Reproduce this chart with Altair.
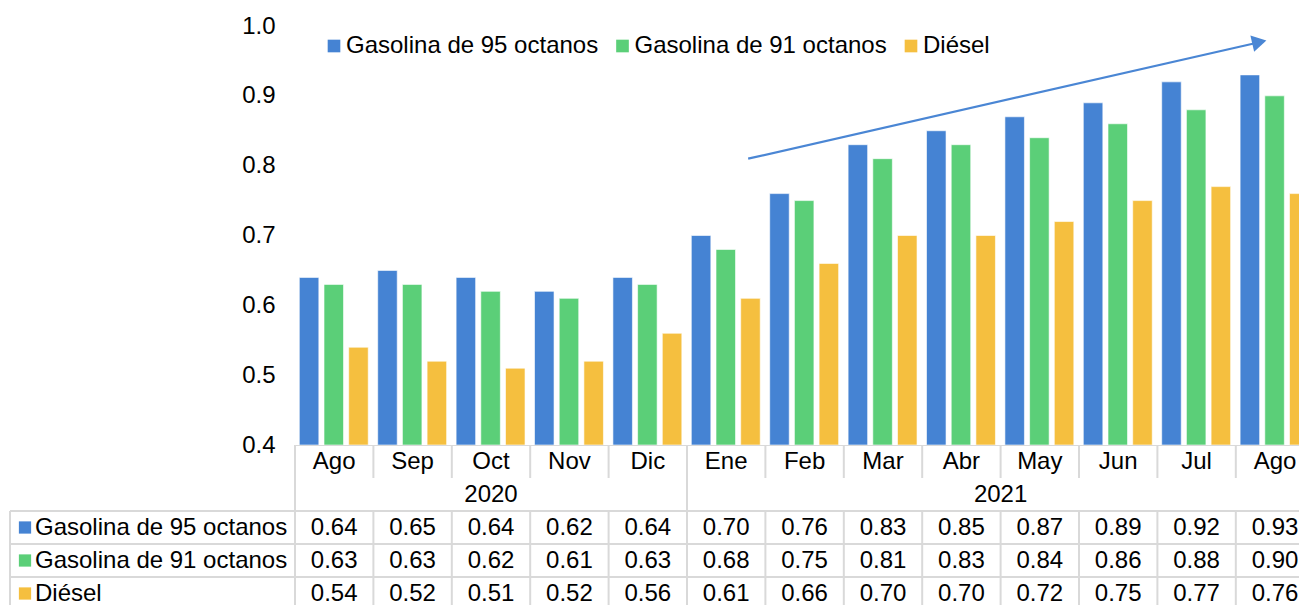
import altair as alt
import pandas as pd

# ---------------- data ----------------
months = ["Ago", "Sep", "Oct", "Nov", "Dic", "Ene", "Feb", "Mar", "Abr", "May", "Jun", "Jul", "Ago"]
years = ["2020"] * 5 + ["2021"] * 8
series = ["Gasolina de 95 octanos", "Gasolina de 91 octanos", "Diésel"]
g95 = [0.64, 0.65, 0.64, 0.62, 0.64, 0.70, 0.76, 0.83, 0.85, 0.87, 0.89, 0.92, 0.93]
g91 = [0.63, 0.63, 0.62, 0.61, 0.63, 0.68, 0.75, 0.81, 0.83, 0.84, 0.86, 0.88, 0.90]
diesel = [0.54, 0.52, 0.51, 0.52, 0.56, 0.61, 0.66, 0.70, 0.70, 0.72, 0.75, 0.77, 0.76]
colors = ["#4583d3", "#5bcf78", "#f5bf3f"]
y_ticks = [0.4, 0.5, 0.6, 0.7, 0.8, 0.9, 1.0]
# trend arrow annotation (month index + position within month, value)
arrow_x = [5.78, 12.23]
arrow_y = [0.81, 0.975]
arrow_tip = (12.30, 0.977)

# ---------------- layout constants ----------------
FONT = "Liberation Sans"
FS = 24
COL = 78.4             # px per month column
W = 1291               # plot width (page 8 -> 1299)
LABEL_W = 287          # label column width in px
XMIN = -LABEL_W / COL
XMAX = (W - LABEL_W) / COL
BAR_H = 419
ROW_H = 33
TAB_H = 160
YMAX_T = TAB_H / ROW_H
GRID = "#d9d9d9"

vals = [g95, g91, diesel]
rows = []
for k, s in enumerate(series):
    for i, m in enumerate(months):
        rows.append({"idx": i, "month": m, "year": years[i], "series": s, "k": k, "value": vals[k][i]})
df = pd.DataFrame(rows)

xscale = alt.Scale(domain=[XMIN, XMAX], nice=False, zero=False)
cscale = alt.Scale(domain=series, range=colors)

# ---------------- bar chart ----------------
bars = alt.Chart(df).transform_calculate(
    x0="datum.idx + 0.055 + datum.k * 0.315",
    x1="datum.idx + 0.055 + datum.k * 0.315 + 0.249",
).mark_bar(clip=True, stroke="white", strokeWidth=1, strokeOpacity=0.6).encode(
    x=alt.X("x0:Q", scale=xscale, axis=None),
    x2="x1:Q",
    y=alt.Y("value:Q", scale=alt.Scale(domain=[0.4, 1.0], nice=False, zero=False),
            axis=alt.Axis(values=y_ticks, format=".1f", labelFontSize=FS, labelFont=FONT,
                          labelColor="#000000", domain=False, ticks=False, tickSize=0,
                          grid=False, labelPadding=0, offset=-267, title=None)),
    y2=alt.datum(0.4),
    color=alt.Color("series:N", scale=cscale, sort=series,
                    legend=alt.Legend(orient="none", legendX=314, legendY=8, direction="horizontal",
                                      title=None, symbolType="square", symbolSize=160,
                                      symbolStrokeWidth=0, labelFontSize=FS, labelFont=FONT,
                                      labelColor="#000000", labelLimit=400, columnPadding=11.5,
                                      labelOffset=0, padding=0)),
)

arrow_df = pd.DataFrame({"x": arrow_x, "y": arrow_y})
arrow_line = alt.Chart(arrow_df).mark_line(color="#4a86d4", strokeWidth=2.2).encode(
    x=alt.X("x:Q", scale=xscale), y="y:Q"
)
head_df = pd.DataFrame({"x": [arrow_tip[0]], "y": [arrow_tip[1]]})
arrow_head = alt.Chart(head_df).mark_point(shape="triangle-right", filled=True, size=280,
                                           color="#4a86d4", opacity=1, angle=347).encode(
    x=alt.X("x:Q", scale=xscale), y="y:Q"
)

top = alt.layer(bars, arrow_line, arrow_head).properties(width=W, height=BAR_H)

# ---------------- data table ----------------
tscale = alt.Scale(domain=[0, YMAX_T], nice=False, zero=False, reverse=True)
months_df = pd.DataFrame({"idx": list(range(len(months))), "month": months, "year": years})

month_text = alt.Chart(months_df).transform_calculate(
    xc="datum.idx + 0.5", yc="0.5"
).mark_text(font=FONT, fontSize=FS, color="#000000").encode(
    x=alt.X("xc:Q", scale=xscale, axis=None),
    y=alt.Y("yc:Q", scale=tscale, axis=None),
    text="month:N",
)

year_text = alt.Chart(months_df).transform_aggregate(
    lo="min(idx)", hi="max(idx)", groupby=["year"]
).transform_calculate(
    xc="(datum.lo + datum.hi + 1) / 2", yc="1.5"
).mark_text(font=FONT, fontSize=FS, color="#000000").encode(
    x=alt.X("xc:Q", scale=xscale, axis=None),
    y=alt.Y("yc:Q", scale=tscale, axis=None),
    text="year:N",
)

value_text = alt.Chart(df).transform_calculate(
    xc="datum.idx + 0.5", yc="datum.k + 2.5"
).mark_text(font=FONT, fontSize=FS, color="#000000").encode(
    x=alt.X("xc:Q", scale=xscale, axis=None),
    y=alt.Y("yc:Q", scale=tscale, axis=None),
    text=alt.Text("value:Q", format=".2f"),
)

series_df = pd.DataFrame({"series": series, "k": [0, 1, 2]})
label_x = XMIN + 27 / COL
square_x = XMIN + 17 / COL
row_labels = alt.Chart(series_df).transform_calculate(
    xc=str(label_x), yc="datum.k + 2.5"
).mark_text(font=FONT, fontSize=FS, color="#000000", align="left").encode(
    x=alt.X("xc:Q", scale=xscale, axis=None),
    y=alt.Y("yc:Q", scale=tscale, axis=None),
    text="series:N",
)
row_squares = alt.Chart(series_df).transform_calculate(
    xc=str(square_x), yc="datum.k + 2.5"
).mark_point(shape="square", filled=True, size=150, opacity=1).encode(
    x=alt.X("xc:Q", scale=xscale, axis=None),
    y=alt.Y("yc:Q", scale=tscale, axis=None),
    color=alt.Color("series:N", scale=cscale, legend=None),
)

left_border = XMIN + 2 / COL
segs = []
# horizontal lines
segs.append({"x": 0, "x2": XMAX, "y": 0, "y2": 0})
for r in (2, 3, 4):
    segs.append({"x": left_border, "x2": XMAX, "y": r, "y2": r})
# vertical lines
for b in range(len(months) + 1):
    segs.append({"x": b, "x2": b, "y": 0, "y2": 1})
    segs.append({"x": b, "x2": b, "y": 2, "y2": YMAX_T})
for b in (0, 5):
    segs.append({"x": b, "x2": b, "y": 1, "y2": 2})
segs.append({"x": left_border, "x2": left_border, "y": 2, "y2": YMAX_T})
seg_df = pd.DataFrame(segs)
grid_rules = alt.Chart(seg_df).mark_rule(color=GRID, strokeWidth=2, clip=True).encode(
    x=alt.X("x:Q", scale=xscale, axis=None),
    x2="x2:Q",
    y=alt.Y("y:Q", scale=tscale, axis=None),
    y2="y2:Q",
)

table = alt.layer(grid_rules, month_text, year_text, value_text, row_squares, row_labels).properties(
    width=W, height=TAB_H
)

chart = alt.vconcat(top, table, spacing=0, bounds="flush").resolve_scale(
    color="shared"
).properties(
    padding={"top": 6, "left": 0, "right": 0, "bottom": 0}
).configure(
    font=FONT,
    view=alt.ViewConfig(stroke="transparent", strokeWidth=0),
)

chart.save("out.html", embed_options={"renderer": "svg", "actions": False})
